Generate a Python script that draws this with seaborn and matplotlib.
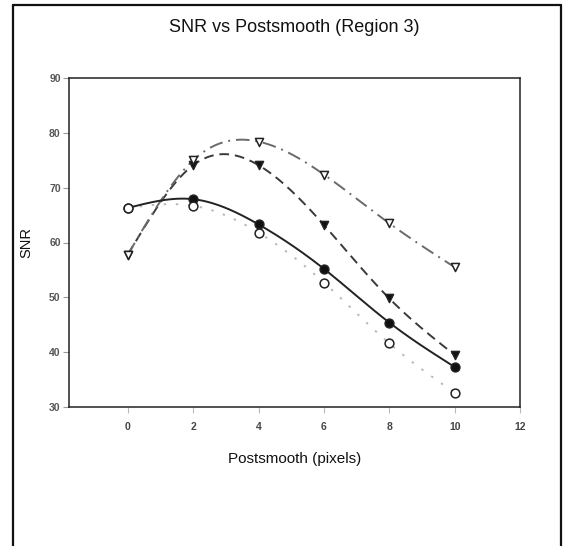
import numpy as np
import pandas as pd
import matplotlib
matplotlib.use("Agg")
import matplotlib.pyplot as plt
from matplotlib.lines import Line2D
import seaborn as sns

# Postsmooth levels (pixels) and SNR for the four reconstructions
postsmooth = [0, 2, 4, 6, 8, 10]
snr_filled_circle = [66.3, 67.9, 63.3, 55.2, 45.4, 37.3]
snr_open_circle = [66.3, 66.7, 61.8, 52.7, 41.6, 32.6]
snr_filled_triangle = [57.8, 74.1, 74.1, 63.2, 49.8, 39.5]
snr_open_triangle = [57.8, 75.0, 78.4, 72.4, 63.5, 55.5]

x_ticks = [0, 2, 4, 6, 8, 10, 12]
y_ticks = [30, 40, 50, 60, 70, 80, 90]


def natural_spline(x, y, xs):
    """Evaluate a natural cubic spline through (x, y) at xs."""
    x = np.asarray(x, float)
    y = np.asarray(y, float)
    n = len(x)
    h = np.diff(x)
    A = np.zeros((n, n))
    b = np.zeros(n)
    A[0, 0] = A[-1, -1] = 1.0
    for i in range(1, n - 1):
        A[i, i - 1] = h[i - 1]
        A[i, i] = 2 * (h[i - 1] + h[i])
        A[i, i + 1] = h[i]
        b[i] = 6 * ((y[i + 1] - y[i]) / h[i] - (y[i] - y[i - 1]) / h[i - 1])
    M = np.linalg.solve(A, b)
    idx = np.clip(np.searchsorted(x, xs) - 1, 0, n - 2)
    x0, x1 = x[idx], x[idx + 1]
    hh = x1 - x0
    t0 = x1 - xs
    t1 = xs - x0
    return (M[idx] * t0 ** 3 / (6 * hh) + M[idx + 1] * t1 ** 3 / (6 * hh)
            + (y[idx] / hh - M[idx] * hh / 6) * t0
            + (y[idx + 1] / hh - M[idx + 1] * hh / 6) * t1)


sns.set_theme(style="white")
plt.rcParams["font.family"] = ["Liberation Sans", "DejaVu Sans"]

fig = plt.figure(figsize=(5.66, 5.46), dpi=100)
ax = fig.add_axes([69 / 566, 1 - 407 / 546, (520 - 69) / 566, (407 - 78) / 546])

series = [
    # values, line colour, linestyle, marker, face colour, line zorder
    (snr_open_circle, "#b8b8b8", (0, (1.2, 5)), "o", "white", 2),
    (snr_filled_triangle, "#3a3a3a", (0, (5, 3)), "v", "#111111", 3),
    (snr_open_triangle, "#6a6a6a", (0, (7, 3, 1, 3)), "v", "white", 3),
    (snr_filled_circle, "#222222", "-", "o", "#111111", 4),
]

xs = np.linspace(postsmooth[0], postsmooth[-1], 300)
for vals, color, ls, marker, face, z in series:
    curve = pd.DataFrame({"x": xs, "y": natural_spline(postsmooth, vals, xs)})
    sns.lineplot(data=curve, x="x", y="y", ax=ax, color=color, linewidth=1.4,
                 linestyle=ls, zorder=z)

# markers: filled first, open ones on top so shared starting points read as open
marker_order = [series[3], series[1], series[0], series[2]]
for k, (vals, color, ls, marker, face, z) in enumerate(marker_order):
    pts = pd.DataFrame({"x": postsmooth, "y": vals})
    size = 40 if marker == "o" else 34
    sns.scatterplot(data=pts, x="x", y="y", ax=ax, marker=marker, s=size,
                    facecolor=face, edgecolor="#222222", linewidth=1.1,
                    zorder=10 + k)

ax.set_xlim(-1.8, 12)
ax.set_ylim(30, 90)
ax.set_xticks(x_ticks)
ax.set_yticks(y_ticks)
ax.set_xticklabels([str(t) for t in x_ticks], fontsize=7.5, fontweight="bold",
                   color="#444444")
ax.set_yticklabels([str(t) for t in y_ticks], fontsize=7.5, fontweight="bold",
                   color="#555555")
ax.tick_params(axis="x", direction="out", length=4, width=0.8, color="#bbbbbb",
               pad=7, bottom=True)
ax.tick_params(axis="y", direction="out", length=4, width=0.8, color="#999999",
               pad=2, left=True)
for side in ["left", "bottom", "right", "top"]:
    ax.spines[side].set_visible(True)
    ax.spines[side].set_color("#222222")
    ax.spines[side].set_linewidth(1.1)

ax.set_xlabel("Postsmooth (pixels)", fontsize=11, color="#111111", labelpad=14)
ax.set_ylabel("SNR", fontsize=10.5, color="#111111", labelpad=11)
ax.set_title("SNR vs Postsmooth (Region 3)", fontsize=13, color="#111111", pad=33)

# outer frame around the figure panel
fig.add_artist(Line2D([13 / 566, 13 / 566], [0, 1 - 5 / 546],
                      transform=fig.transFigure, color="#111111", linewidth=1.6))
fig.add_artist(Line2D([13 / 566, 561 / 566], [1 - 5 / 546, 1 - 5 / 546],
                      transform=fig.transFigure, color="#111111", linewidth=1.6))
fig.add_artist(Line2D([561 / 566, 561 / 566], [0, 1 - 5 / 546],
                      transform=fig.transFigure, color="#111111", linewidth=1.6))

fig.savefig("out.png", dpi=100)
